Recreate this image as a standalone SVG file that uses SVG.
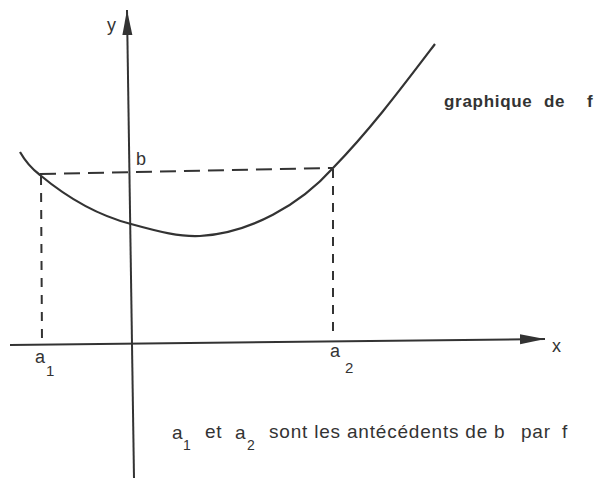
<svg xmlns="http://www.w3.org/2000/svg" width="599" height="478" viewBox="0 0 599 478">
<style>
.ax{stroke:#333;stroke-width:2;fill:none}
.cv{stroke:#333;stroke-width:2.2;fill:none}
.ds{stroke:#333;stroke-width:2;fill:none;stroke-dasharray:16 8}
.dv{stroke:#333;stroke-width:2;fill:none;stroke-dasharray:9 8}
text{font-family:"Liberation Sans",Arial,sans-serif;fill:#333}
.lb{font-size:18px}
.sb{font-size:15px}
.cap{font-size:19px;letter-spacing:0.8px}
.cs{font-size:14px}
.bd{font-size:17px;font-weight:bold;letter-spacing:0.7px}
</style>
<defs>
<marker id="ah" markerWidth="26" markerHeight="12" refX="25" refY="6" orient="auto" markerUnits="userSpaceOnUse">
<path d="M0,1 L25,6 L0,11 Z" fill="#333"/>
</marker>
</defs>
<rect width="599" height="478" fill="#fff"/>
<g id="connectors">
<path id="x-axis" class="ax" d="M10,345 L545,339" marker-end="url(#ah)"/>
<path id="y-axis" class="ax" d="M134,478 L127,10" marker-end="url(#ah)"/>
<path id="curve" class="cv" d="M20,152 Q28,166 40,175 C70,200 100,216 131,224 C160,232 180,237 200,236 C250,233 300,205 333,168 C370,130 400,90 435,44"/>
<path id="b-line" class="ds" d="M40,174 L333,168"/>
<path id="a1-line" class="dv" d="M41,176 L42,343"/>
<path id="a2-line" class="dv" d="M333,169 L333,339"/>
</g>
<g id="label-y"><text class="lb" x="107" y="31">y</text></g>
<g id="label-x"><text class="lb" x="552" y="352">x</text></g>
<g id="label-b"><text class="lb" x="136" y="165">b</text></g>
<g id="label-a1"><text class="lb" x="35" y="363">a</text><text class="sb" x="46" y="376">1</text></g>
<g id="label-a2"><text class="lb" x="330" y="357">a</text><text class="sb" x="345" y="373">2</text></g>
<g id="label-graph"><text class="bd" y="107"><tspan x="444">graphique</tspan><tspan x="544">de</tspan><tspan x="587">f</tspan></text></g>
<g id="caption"><text class="cap"><tspan x="172" y="439">a</tspan><tspan class="cs" x="183" y="450">1</tspan><tspan x="205" y="438">et</tspan><tspan x="235" y="439">a</tspan><tspan class="cs" x="247" y="450">2</tspan><tspan x="269" y="438">sont les antécédents de</tspan><tspan x="494" y="438">b</tspan><tspan x="521" y="438">par</tspan><tspan x="562" y="438">f</tspan></text></g>
</svg>
